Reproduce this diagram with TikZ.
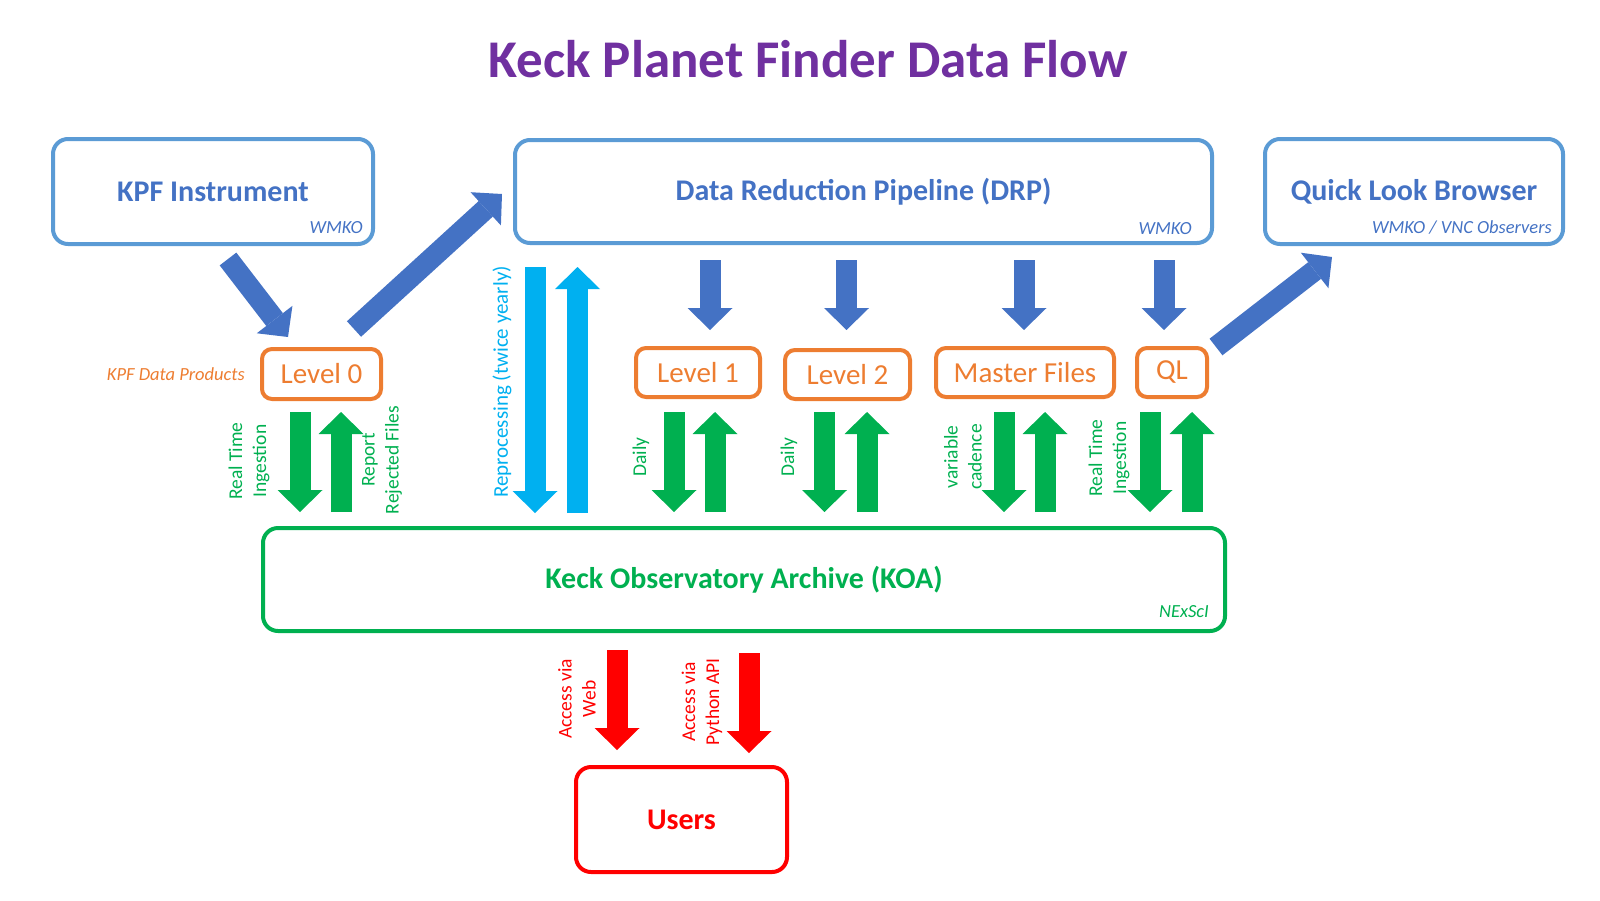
\documentclass[tikz,border=0pt]{standalone}
\usepackage{fontspec}
\setmainfont{Carlito}
\usetikzlibrary{arrows.meta,positioning}

\definecolor{titlepurple}{HTML}{7030A0}
\definecolor{boxblue}{HTML}{5B9BD5}
\definecolor{textblue}{HTML}{4472C4}
\definecolor{arrowblue}{HTML}{4472C4}
\definecolor{lvlorange}{HTML}{ED7D31}
\definecolor{koagreen}{HTML}{00B050}
\definecolor{reprocyan}{HTML}{00B0F0}
\definecolor{userred}{HTML}{FF0000}

\tikzset{
    bigbox/.style={draw, line width=4pt, rounded corners=15pt, font=\fontsize{30}{35}\selectfont\bfseries},
    lvlbox/.style={draw=lvlorange, text=lvlorange, line width=4pt, rounded corners=10pt, minimum height=49pt, font=\fontsize{29}{34}\selectfont},
    tag/.style={font=\fontsize{18.5}{21}\selectfont\itshape, inner sep=0pt},
    fat/.style={line width=21pt, -{Triangle[length=22pt,width=45pt,line width=0pt]}},
    bluearrow/.style={fat, draw=arrowblue},
    greenarrow/.style={fat, draw=koagreen},
    cyanarrow/.style={fat, draw=reprocyan},
    redarrow/.style={fat, draw=userred},
    sidelabel/.style={rotate=90, align=center, font=\fontsize{19.5}{24}\selectfont}
}

\begin{document}
\begin{tikzpicture}[x=1pt,y=-1pt]
    \useasboundingbox (0,0) rectangle (1600,900);

    % Title
    \node[anchor=base, text=titlepurple, font=\fontsize{53}{60}\selectfont\bfseries] (title) at (808,77) {Keck Planet Finder Data Flow};

    % Top row
    \node[bigbox, draw=boxblue, text=textblue, minimum width=320pt, minimum height=105pt] (kpf) at (213,191.5) {KPF Instrument};
    \node[bigbox, draw=boxblue, text=textblue, minimum width=697pt, minimum height=103pt] (drp) at (863.5,191.5) {Data Reduction Pipeline (DRP)};
    \node[bigbox, draw=boxblue, text=textblue, minimum width=298pt, minimum height=105pt] (qlb) at (1414,191.5) {Quick Look Browser};
    \node[tag, text=textblue, anchor=base east] (kpfwho) at ([xshift=-12pt,yshift=13pt]kpf.south east) {WMKO};
    \node[tag, text=textblue, anchor=base east] (drpwho) at ([xshift=-22pt,yshift=11pt]drp.south east) {WMKO};
    \node[tag, text=textblue, anchor=base east] (qlbwho) at ([xshift=-13pt,yshift=13pt]qlb.south east) {WMKO / VNC Observers};

    % Data products
    \node[lvlbox, minimum width=119pt, minimum height=50pt] (lvl0) at (321.5,374) {Level 0};
    \node[lvlbox, minimum width=124pt] (lvl1) at (698,372.5) {Level 1};
    \node[lvlbox, minimum width=125pt] (lvl2) at (847.5,374.5) {Level 2};
    \node[lvlbox, minimum width=178pt] (master) at (1025,372.5) {Master Files};
    \node[lvlbox, minimum width=70pt] (ql) at (1172,372.5) {QL};
    \node[tag, text=lvlorange, left=15pt of lvl0] (products) {KPF Data Products};

    % Archive and users
    \node[bigbox, draw=koagreen, text=koagreen, minimum width=962pt, minimum height=103pt] (koa) at (744,579.5) {Keck Observatory Archive (KOA)};
    \node[tag, text=koagreen, anchor=base east] (koawho) at ([xshift=-18pt,yshift=16pt]koa.south east) {NExScI};
    \node[bigbox, draw=userred, text=userred, minimum width=211pt, minimum height=105pt] (users) at (681.5,819.5) {Users};

    % Blue flow
    \draw[bluearrow] ([xshift=15pt,yshift=-13pt]kpf.south) -- ([xshift=-33.5pt,yshift=10pt]lvl0.north);
    \draw[bluearrow] ([xshift=32.5pt,yshift=18pt]lvl0.north) -- ([xshift=-11pt,yshift=-2.5pt]drp.west);
    \draw[bluearrow, shorten <=15pt, shorten >=16pt] ([xshift=12pt]lvl1.north |- drp.south) -- ([xshift=12pt]lvl1.north);
    \draw[bluearrow, shorten <=15pt, shorten >=18pt] ([xshift=-1pt]lvl2.north |- drp.south) -- ([xshift=-1pt]lvl2.north);
    \draw[bluearrow, shorten <=15pt, shorten >=16pt] ([xshift=-1pt]master.north |- drp.south) -- ([xshift=-1pt]master.north);
    \draw[bluearrow, shorten <=15pt, shorten >=16pt] ([xshift=-8pt]ql.north |- drp.south) -- ([xshift=-8pt]ql.north);
    \draw[bluearrow] ([xshift=7pt,yshift=-1pt]ql.north east) -- ([xshift=69pt,yshift=-11pt]qlb.south west);

    % Reprocessing
    \draw[cyanarrow, shorten <=22pt, shorten >=13pt] ([xshift=22pt]drp.south west) -- ([xshift=22pt]drp.south west |- koa.north);
    \draw[cyanarrow, shorten <=13pt, shorten >=22pt] ([xshift=64.5pt]drp.south west |- koa.north) -- ([xshift=64.5pt]drp.south west);
    \node[sidelabel, text=reprocyan, font=\fontsize{21}{25}\selectfont] (repro) at (502,382) {Reprocessing (twice yearly)};

    % Ingestion into the archive
    \draw[greenarrow, shorten <=11pt, shorten >=14pt] ([xshift=-21.5pt]lvl0.south) -- ([xshift=-21.5pt]lvl0.south |- koa.north);
    \draw[greenarrow, shorten <=14pt, shorten >=11pt] ([xshift=19.5pt]lvl0.south |- koa.north) -- ([xshift=19.5pt]lvl0.south);
    \draw[greenarrow, shorten <=13pt, shorten >=14pt] ([xshift=-24pt]lvl1.south) -- ([xshift=-24pt]lvl1.south |- koa.north);
    \draw[greenarrow, shorten <=14pt, shorten >=13pt] ([xshift=17pt]lvl1.south |- koa.north) -- ([xshift=17pt]lvl1.south);
    \draw[greenarrow, shorten <=11pt, shorten >=14pt] ([xshift=-23pt]lvl2.south) -- ([xshift=-23pt]lvl2.south |- koa.north);
    \draw[greenarrow, shorten <=14pt, shorten >=11pt] ([xshift=19.5pt]lvl2.south |- koa.north) -- ([xshift=19.5pt]lvl2.south);
    \draw[greenarrow, shorten <=13pt, shorten >=14pt] ([xshift=-21pt]master.south) -- ([xshift=-21pt]master.south |- koa.north);
    \draw[greenarrow, shorten <=14pt, shorten >=13pt] ([xshift=20pt]master.south |- koa.north) -- ([xshift=20pt]master.south);
    \draw[greenarrow, shorten <=13pt, shorten >=14pt] ([xshift=-22pt]ql.south) -- ([xshift=-22pt]ql.south |- koa.north);
    \draw[greenarrow, shorten <=14pt, shorten >=13pt] ([xshift=20pt]ql.south |- koa.north) -- ([xshift=20pt]ql.south);
    \node[sidelabel, text=koagreen] (rt0) at (249,461) {Real Time\\Ingestion};
    \node[sidelabel, text=koagreen] (rejected) at (382,460) {Report\\Rejected Files};
    \node[sidelabel, text=koagreen] (daily1) at (641,457) {Daily};
    \node[sidelabel, text=koagreen] (daily2) at (789,457) {Daily};
    \node[sidelabel, text=koagreen] (cadence) at (963,457) {variable\\cadence};
    \node[sidelabel, text=koagreen] (rtql) at (1109,458) {Real Time\\Ingestion};

    % Access
    \draw[redarrow, shorten <=17pt, shorten >=15pt] ([xshift=-64.5pt]users.north |- koa.south) -- ([xshift=-64.5pt]users.north);
    \draw[redarrow, shorten <=20pt, shorten >=12pt] ([xshift=67.5pt]users.north |- koa.south) -- ([xshift=67.5pt]users.north);
    \node[sidelabel, text=userred] (web) at (577,699) {Access via\\Web};
    \node[sidelabel, text=userred] (api) at (702,702) {Access via\\Python API};
\end{tikzpicture}
\end{document}
